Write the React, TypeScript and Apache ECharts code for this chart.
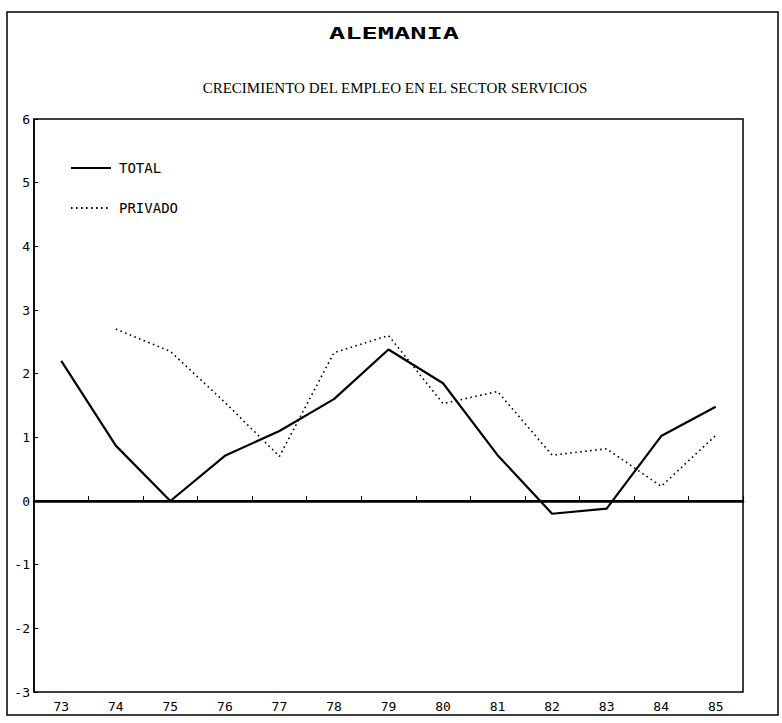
import React, { useEffect, useRef } from "react";
import * as echarts from "echarts";

const years = ["73", "74", "75", "76", "77", "78", "79", "80", "81", "82", "83", "84", "85"];
const total = [2.2, 0.87, 0, 0.71, 1.1, 1.6, 2.38, 1.85, 0.72, -0.2, -0.12, 1.02, 1.48];
const privado = [null, 2.7, 2.35, 1.55, 0.7, 2.33, 2.6, 1.53, 1.72, 0.72, 0.82, 0.23, 1.03];
const yMin = -3;
const yMax = 6;
const yStep = 1;

const titleText = "ALEMANIA";
const subtitleText = "CRECIMIENTO DEL EMPLEO EN EL SECTOR SERVICIOS";
const seriesNames = ["TOTAL", "PRIVADO"];

const mono = "'DejaVu Sans Mono', monospace";

export default function App() {
  const ref = useRef<HTMLDivElement>(null);

  useEffect(() => {
    if (!ref.current) return;
    const chart = echarts.init(ref.current, null, { renderer: "svg" });
    chart.setOption({
      animation: false,
      backgroundColor: "#ffffff",
      grid: {
        left: 34,
        right: 39,
        top: 119,
        bottom: 31,
        show: true,
        borderColor: "#000",
        borderWidth: 1.5,
        backgroundColor: "transparent",
      },
      legend: {
        orient: "vertical",
        left: 70,
        top: 161,
        padding: 0,
        itemWidth: 40,
        itemHeight: 14,
        itemGap: 26,
        selectedMode: false,
        data: seriesNames,
        itemStyle: { color: "transparent", borderWidth: 0, opacity: 0 },
        textStyle: {
          fontFamily: mono,
          fontSize: 14,
          color: "#000",
          padding: [0, 0, 0, 3],
        },
      },
      xAxis: {
        type: "category",
        data: years,
        boundaryGap: true,
        axisLine: { show: true, lineStyle: { color: "#000", width: 2.5 } },
        axisTick: { show: true, inside: true, length: 5, lineStyle: { color: "#000", width: 1 } },
        axisLabel: { color: "#000", fontFamily: mono, fontSize: 13, margin: 8 },
        splitLine: { show: false },
      },
      yAxis: {
        type: "value",
        min: yMin,
        max: yMax,
        interval: yStep,
        axisLine: { show: true, lineStyle: { color: "#000", width: 1.5 } },
        axisTick: { show: true, inside: true, length: 4, lineStyle: { color: "#000", width: 1 } },
        axisLabel: { color: "#000", fontFamily: mono, fontSize: 13, margin: 4 },
        splitLine: { show: false },
      },
      series: [
        {
          name: seriesNames[0],
          type: "line",
          data: total,
          symbol: "none",
          lineStyle: { color: "#000", width: 2.2, type: "solid" },
          itemStyle: { color: "#000" },
          markLine: {
            silent: true,
            symbol: "none",
            label: { show: false },
            lineStyle: { color: "#000", width: 2, type: "solid" },
            data: [{ yAxis: 0 }],
          },
        },
        {
          name: seriesNames[1],
          type: "line",
          data: privado,
          symbol: "none",
          connectNulls: false,
          lineStyle: { color: "#000", width: 1.6, type: [1.6, 3.4] },
          itemStyle: { color: "#000" },
        },
      ],
      graphic: [
        {
          type: "rect",
          shape: { x: 7, y: 12, width: 771, height: 703 },
          style: { fill: "none", stroke: "#000", lineWidth: 1.5 },
          silent: true,
        },
        {
          type: "text",
          x: 394,
          y: 34,
          scaleX: 1.8,
          style: {
            text: titleText,
            fontFamily: mono,
            fontWeight: "bold",
            fontSize: 15,
            fill: "#000",
            textAlign: "center",
            textVerticalAlign: "middle",
          },
        },
        {
          type: "text",
          x: 395,
          y: 88,
          style: {
            text: subtitleText,
            fontFamily: "'Liberation Serif', serif",
            fontSize: 15,
            fill: "#000",
            textAlign: "center",
            textVerticalAlign: "middle",
          },
        },
      ],
    });
    return () => chart.dispose();
  }, []);

  return (
    <div
      ref={ref}
      style={{ position: "fixed", left: 0, top: 0, width: 782, height: 723, background: "#fff" }}
    />
  );
}
